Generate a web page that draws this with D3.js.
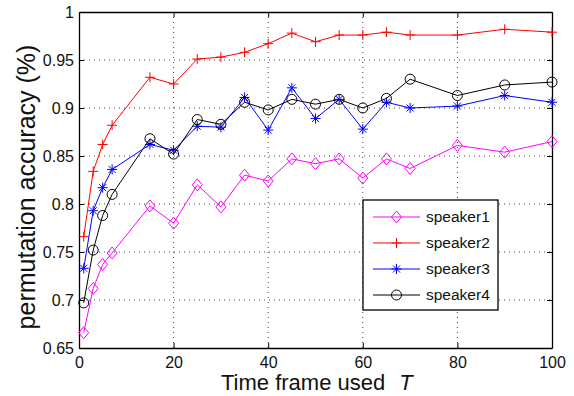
<!DOCTYPE html>
<html>
<head>
<meta charset="utf-8">
<script src="https://cdn.jsdelivr.net/npm/d3@7"></script>
<style>
  body { margin: 0; background: #fff; }
  svg { display: block; font-family: "Liberation Sans", Arial, sans-serif; }
</style>
</head>
<body>
<div id="chart"></div>
<script>
// time frames used (T)
const frames = [1, 3, 5, 7, 15, 20, 25, 30, 35, 40, 45, 50, 55, 60, 65, 70, 80, 90, 100];

const speaker1 = [0.666, 0.712, 0.737, 0.749, 0.798, 0.780, 0.820, 0.797, 0.830, 0.824, 0.847, 0.842, 0.847, 0.827, 0.847, 0.837, 0.861, 0.854, 0.865];
const speaker2 = [0.766, 0.834, 0.862, 0.882, 0.932, 0.925, 0.951, 0.953, 0.958, 0.967, 0.978, 0.969, 0.976, 0.976, 0.979, 0.976, 0.976, 0.982, 0.979];
const speaker3 = [0.733, 0.793, 0.817, 0.836, 0.862, 0.856, 0.881, 0.880, 0.911, 0.877, 0.921, 0.889, 0.909, 0.878, 0.906, 0.900, 0.902, 0.913, 0.906];
const speaker4 = [0.697, 0.752, 0.788, 0.810, 0.868, 0.852, 0.888, 0.883, 0.906, 0.898, 0.909, 0.904, 0.909, 0.900, 0.910, 0.930, 0.913, 0.924, 0.927];

const xTicks = [0, 20, 40, 60, 80, 100];
const yTicks = [0.65, 0.7, 0.75, 0.8, 0.85, 0.9, 0.95, 1];

const W = 574, H = 396;
const m = {left: 79, right: 22, top: 12, bottom: 48};

let svg = d3.select('#chart').append('svg')
    .attr('width', W)
    .attr('height', H);

let x = d3.scaleLinear().domain([0, 100]).range([m.left, W - m.right]);
let y = d3.scaleLinear().domain([0.65, 1]).range([H - m.bottom, m.top]);

// dotted grid
let grid = svg.append('g').attr('class', 'grid');
grid.selectAll('line.gx').data(xTicks.slice(1, -1)).enter()
    .append('line')
    .attr('x1', d => x(d)).attr('x2', d => x(d))
    .attr('y1', y(0.65)).attr('y2', y(1))
    .attr('stroke', '#444').attr('stroke-width', 1)
    .attr('stroke-dasharray', '1,4');
grid.selectAll('line.gy').data(yTicks.slice(1, -1)).enter()
    .append('line')
    .attr('y1', d => y(d)).attr('y2', d => y(d))
    .attr('x1', x(0)).attr('x2', x(100))
    .attr('stroke', '#444').attr('stroke-width', 1)
    .attr('stroke-dasharray', '1,4');

// axes, ticks pointing inward on all sides
let fmtY = d => String(+d.toFixed(2));
svg.append('g')
    .attr('transform', `translate(0,${y(0.65)})`)
    .call(d3.axisBottom(x).tickValues(xTicks).tickSizeInner(-5).tickSizeOuter(0).tickPadding(9));
svg.append('g')
    .attr('transform', `translate(${x(0)},0)`)
    .call(d3.axisLeft(y).tickValues(yTicks).tickFormat(fmtY).tickSizeInner(-5).tickSizeOuter(0).tickPadding(5));
svg.append('g')
    .attr('transform', `translate(0,${y(1)})`)
    .call(d3.axisTop(x).tickValues(xTicks).tickSizeInner(-5).tickSizeOuter(0).tickFormat(''));
svg.append('g')
    .attr('transform', `translate(${x(100)},0)`)
    .call(d3.axisRight(y).tickValues(yTicks).tickSizeInner(-5).tickSizeOuter(0).tickFormat(''));

svg.selectAll('.domain').attr('stroke', '#000').attr('stroke-width', 1.3);
svg.selectAll('.tick line').attr('stroke', '#000');
svg.selectAll('.tick text')
    .attr('font-size', 16)
    .attr('fill', '#111')
    .attr('font-family', '"Liberation Sans", Arial, sans-serif');

// markers
const symbols = {
    diamond: (g, c) => g.append('path')
        .attr('d', 'M0,-6L5,0L0,6L-5,0Z')
        .attr('fill', 'none').attr('stroke', c),
    plus: (g, c) => g.append('path')
        .attr('d', 'M-5,0H5M0,-5V5')
        .attr('fill', 'none').attr('stroke', c),
    star: (g, c) => g.append('path')
        .attr('d', 'M-5,0H5M0,-5V5M-3.5,-3.5L3.5,3.5M-3.5,3.5L3.5,-3.5')
        .attr('fill', 'none').attr('stroke', c),
    circle: (g, c) => g.append('circle')
        .attr('r', 5)
        .attr('fill', 'none').attr('stroke', c)
};

const series = [
    {name: 'speaker1', values: speaker1, color: '#ff00ff', marker: 'diamond'},
    {name: 'speaker2', values: speaker2, color: '#ff0000', marker: 'plus'},
    {name: 'speaker3', values: speaker3, color: '#0000ff', marker: 'star'},
    {name: 'speaker4', values: speaker4, color: '#000000', marker: 'circle'}
];

let line = d3.line()
    .x(d => x(d[0]))
    .y(d => y(d[1]));

series.forEach(s => {
    let pts = frames.map((f, i) => [f, s.values[i]]);
    svg.append('path')
        .datum(pts)
        .attr('d', line)
        .attr('fill', 'none')
        .attr('stroke', s.color)
        .attr('stroke-width', 1);
    pts.forEach(p => {
        let g = svg.append('g').attr('transform', `translate(${x(p[0])},${y(p[1])})`);
        symbols[s.marker](g, s.color);
    });
});

// legend
let lg = svg.append('g').attr('transform', 'translate(363,200)');
lg.append('rect')
    .attr('width', 135).attr('height', 110)
    .attr('fill', '#fff').attr('stroke', '#000').attr('stroke-width', 1.3);
series.forEach((s, i) => {
    let row = lg.append('g').attr('transform', `translate(0,${17 + i * 26})`);
    row.append('line')
        .attr('x1', 10).attr('x2', 57)
        .attr('stroke', s.color).attr('stroke-width', 1);
    let mk = row.append('g').attr('transform', 'translate(33.5,0)');
    symbols[s.marker](mk, s.color);
    row.append('text')
        .attr('x', 63).attr('y', 5)
        .attr('font-size', 15.5)
        .attr('fill', '#111')
        .text(s.name);
});

// axis titles
let xl = svg.append('text')
    .attr('x', 221).attr('y', 390)
    .attr('font-size', 22)
    .attr('fill', '#111');
xl.append('tspan').text('Time frame used');
xl.append('tspan').attr('dx', 14).attr('font-style', 'italic').text('T');

svg.append('text')
    .attr('transform', 'translate(35,187) rotate(-90)')
    .attr('text-anchor', 'middle')
    .attr('font-size', 25)
    .attr('fill', '#111')
    .text('permutation accuracy (%)');
</script>
</body>
</html>
